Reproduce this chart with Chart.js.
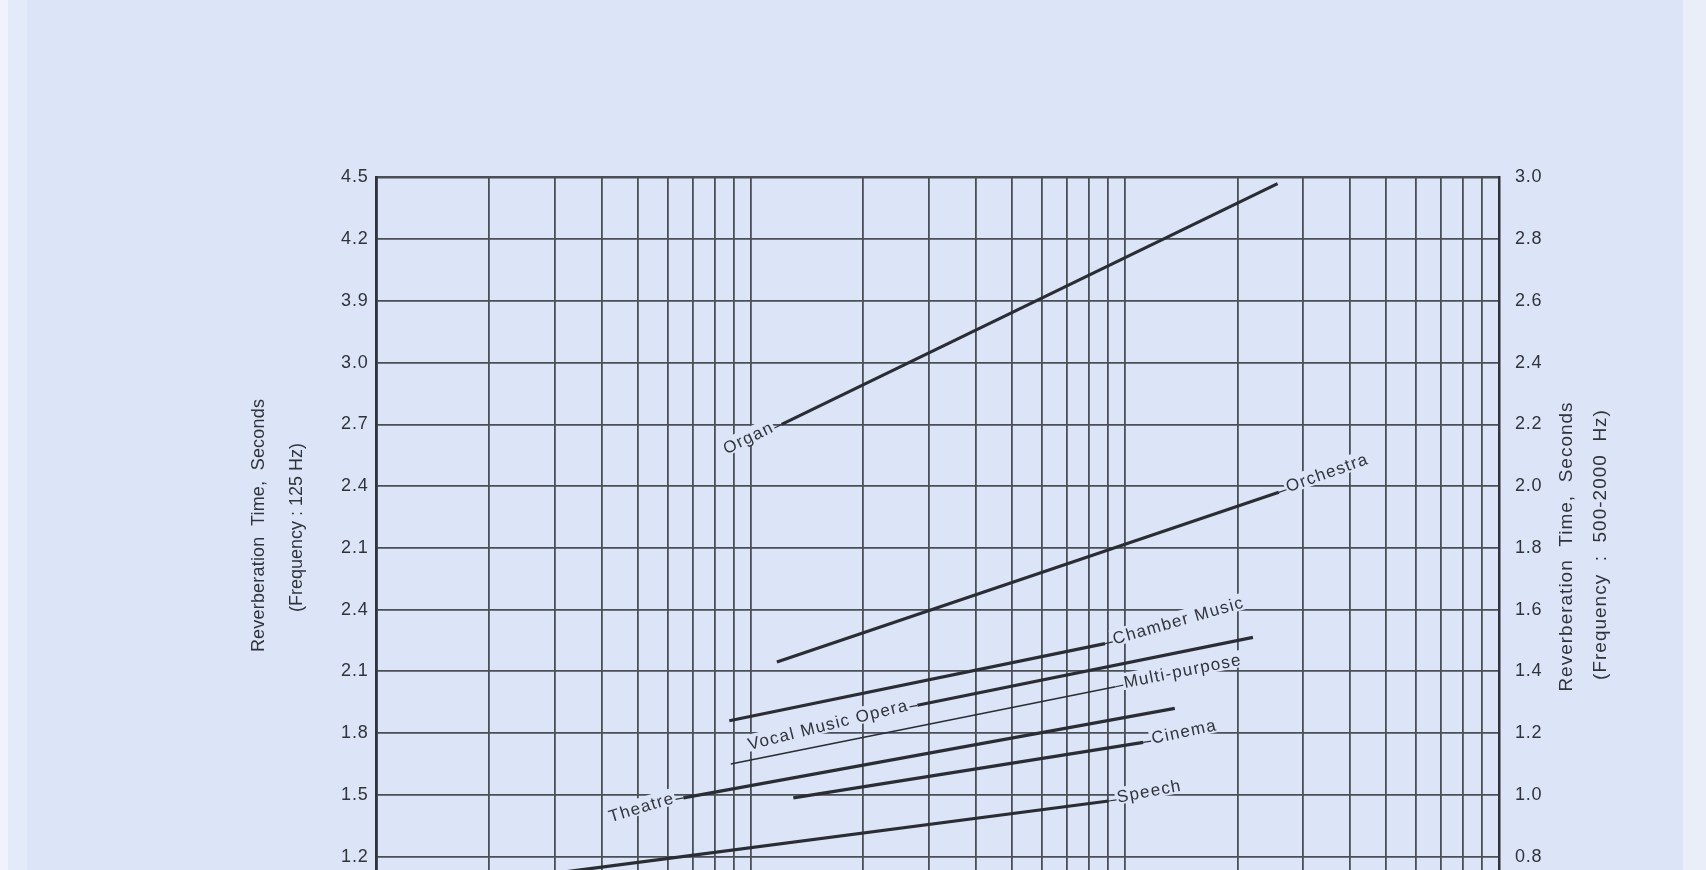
<!DOCTYPE html>
<html>
<head>
<meta charset="utf-8">
<title>Optimum reverberation time</title>
<script src="https://cdn.jsdelivr.net/npm/chart.js@4.4.1/dist/chart.umd.min.js"></script>
<style>
  html, body { margin: 0; padding: 0; overflow: hidden; }
  body {
    width: 1706px; height: 870px;
    background: linear-gradient(to right, #f0f3fb 0, #f0f3fb 8px, #e3eaf9 8px, #e3eaf9 27px, #dce5f8 27px, #dce5f8 1683px, #eaeef8 1683px);
  }
  #wrap { position: absolute; left: 0; top: 0; width: 1706px; height: 1040px; }
</style>
</head>
<body>
<div id="wrap"><canvas id="rt"></canvas></div>
<script>
// room uses, volume range (log axis) and reverberation time at 500-2000 Hz (right scale)
const rooms   = ["Organ", "Orchestra", "Chamber Music", "Vocal Music Opera", "Multi-purpose", "Theatre", "Cinema", "Speech"];
const volFrom = [1210, 1175, 877, 2790, 885, 661, 1300, 274];
const volTo   = [25600, 25800, 8850, 22000, 9440, 13600, 11200, 9050];
const rtFrom  = [2.20, 1.43, 1.24, 1.29, 1.10, 0.99, 0.99, 0.74];
const rtTo    = [2.98, 1.98, 1.49, 1.51, 1.35, 1.28, 1.17, 0.98];

// left scale is printed with its own 125 Hz numbers, top to bottom
const leftTicks = ["4.5", "4.2", "3.9", "3.0", "2.7", "2.4", "2.1", "2.4", "2.1", "1.8", "1.5", "1.2", "0.9", "0.6"];
const leftTitle  = ["Reverberation  Time,  Seconds", "(Frequency : 125 Hz)"];
const rightTitle = ["Reverberation  Time,  Seconds", "(Frequency  :  500-2000  Hz)"];

// where each name sits and how it is tilted
const labelSide = ["start", "end", "end", "start", "end", "start", "end", "end"];
const labelTilt = [-25.8, -19.5, -16, -14, -11.2, -17, -12, -10.7];

const INK  = "#30333a";
const GRID = "#4a4e55";
const BG   = "#dce5f8";
const FONT = '"Liberation Sans", Arial, sans-serif';

const gridVolumes = [];
[100, 1000, 10000].forEach((d) => { for (let m = 1; m < 10; m++) gridVolumes.push(m * d); });
gridVolumes.push(100000);

// a little tracking on the tick numbers, like the printed sheet
const tickSpacing = {
  id: "tickSpacing",
  beforeDraw(chart) { chart.ctx.letterSpacing = "0.8px"; },
  afterDraw(chart) { chart.ctx.letterSpacing = "0px"; },
};

const curveLabels = {
  id: "curveLabels",
  afterDatasetsDraw(chart) {
    const ctx = chart.ctx;
    ctx.save();
    ctx.font = "17px " + FONT;
    ctx.letterSpacing = "1.3px";
    chart.data.datasets.forEach((ds, i) => {
      const pts = chart.getDatasetMeta(i).data;
      const a = pts[0], b = pts[1];
      const dir = Math.atan2(b.y - a.y, b.x - a.x);
      const atEnd = labelSide[i] === "end";
      const p = atEnd ? b : a;
      const s = atEnd ? 1 : -1;
      const ax = p.x + s * 8 * Math.cos(dir), ay = p.y + s * 8 * Math.sin(dir);
      const w = ctx.measureText(ds.label).width;
      ctx.save();
      ctx.translate(ax, ay);
      ctx.rotate(labelTilt[i] * Math.PI / 180);
      const x0 = atEnd ? 1 : -w - 1;
      ctx.fillStyle = BG;
      ctx.fillRect(x0 - 2, -12, w + 3, 17);
      ctx.fillStyle = INK;
      ctx.textAlign = "left";
      ctx.textBaseline = "alphabetic";
      ctx.fillText(ds.label, x0, 3);
      ctx.restore();
      ctx.strokeStyle = INK;
      ctx.lineWidth = 1.2;
      ctx.beginPath(); ctx.moveTo(p.x, p.y); ctx.lineTo(ax, ay); ctx.stroke();
    });
    ctx.restore();
  }
};

const sideTitles = {
  id: "sideTitles",
  afterDraw(chart) {
    const { ctx, chartArea: ca } = chart;
    const put = (text, x, y, size, track) => {
      ctx.save();
      ctx.font = size + "px " + FONT;
      ctx.letterSpacing = track + "px";
      ctx.translate(x, y);
      ctx.rotate(-Math.PI / 2);
      ctx.fillText(text, 0, 0);
      ctx.restore();
    };
    ctx.save();
    ctx.fillStyle = INK;
    ctx.textAlign = "center";
    ctx.textBaseline = "middle";
    put(leftTitle[0], ca.left - 117, ca.top + 348, 18, 0.2);
    put(leftTitle[1], ca.left - 79, ca.top + 350, 18, 0);
    put(rightTitle[0], ca.right + 68, ca.top + 369, 19, 1);
    put(rightTitle[1], ca.right + 102, ca.top + 367, 19, 1);
    ctx.restore();
  }
};

const tickFont = { family: FONT, size: 18 };

new Chart(document.getElementById("rt"), {
  type: "line",
  data: {
    datasets: rooms.map((r, i) => ({
      label: r,
      data: [{ x: volFrom[i], y: rtFrom[i] }, { x: volTo[i], y: rtTo[i] }],
      yAxisID: "y",
      borderColor: "#2a2d33",
      borderWidth: r === "Multi-purpose" ? 1.6 : 3.2,
      pointRadius: 0,
      tension: 0,
      fill: false,
    })),
  },
  options: {
    responsive: true, maintainAspectRatio: false, animation: false,
    layout: { padding: { top: 177.5, left: 0, right: 0, bottom: 0 } },
    plugins: { legend: { display: false }, tooltip: { enabled: false } },
    scales: {
      x: {
        type: "logarithmic", min: 100, max: 100000, position: "bottom",
        afterBuildTicks: (s) => { s.ticks = gridVolumes.map((v) => ({ value: v })); },
        afterFit: (s) => { s.height = 60; },
        ticks: { display: false },
        grid: { color: GRID, lineWidth: 1.8, drawTicks: false },
        border: { display: true, color: INK, width: 2.5 },
      },
      y: {
        position: "right", min: 0.4, max: 3.0,
        afterFit: (s) => { s.width = 207; },
        ticks: { stepSize: 0.2, padding: 16, font: tickFont, color: INK, callback: (v) => Number(v).toFixed(1) },
        grid: { color: GRID, drawTicks: false, lineWidth: (c) => (c.tick && Math.abs(c.tick.value - 3) < 1e-6 ? 2.6 : 1.8) },
        border: { display: true, color: INK, width: 2.5 },
      },
      y2: {
        position: "left", min: 0.4, max: 3.0,
        afterFit: (s) => { s.width = 376.5; },
        ticks: { stepSize: 0.2, padding: 8, font: tickFont, color: INK, callback: (v, i, t) => leftTicks[t.length - 1 - i] },
        grid: { display: false, drawTicks: false },
        border: { display: true, color: INK, width: 2.5 },
      },
    },
  },
  plugins: [tickSpacing, curveLabels, sideTitles],
});
</script>
</body>
</html>
